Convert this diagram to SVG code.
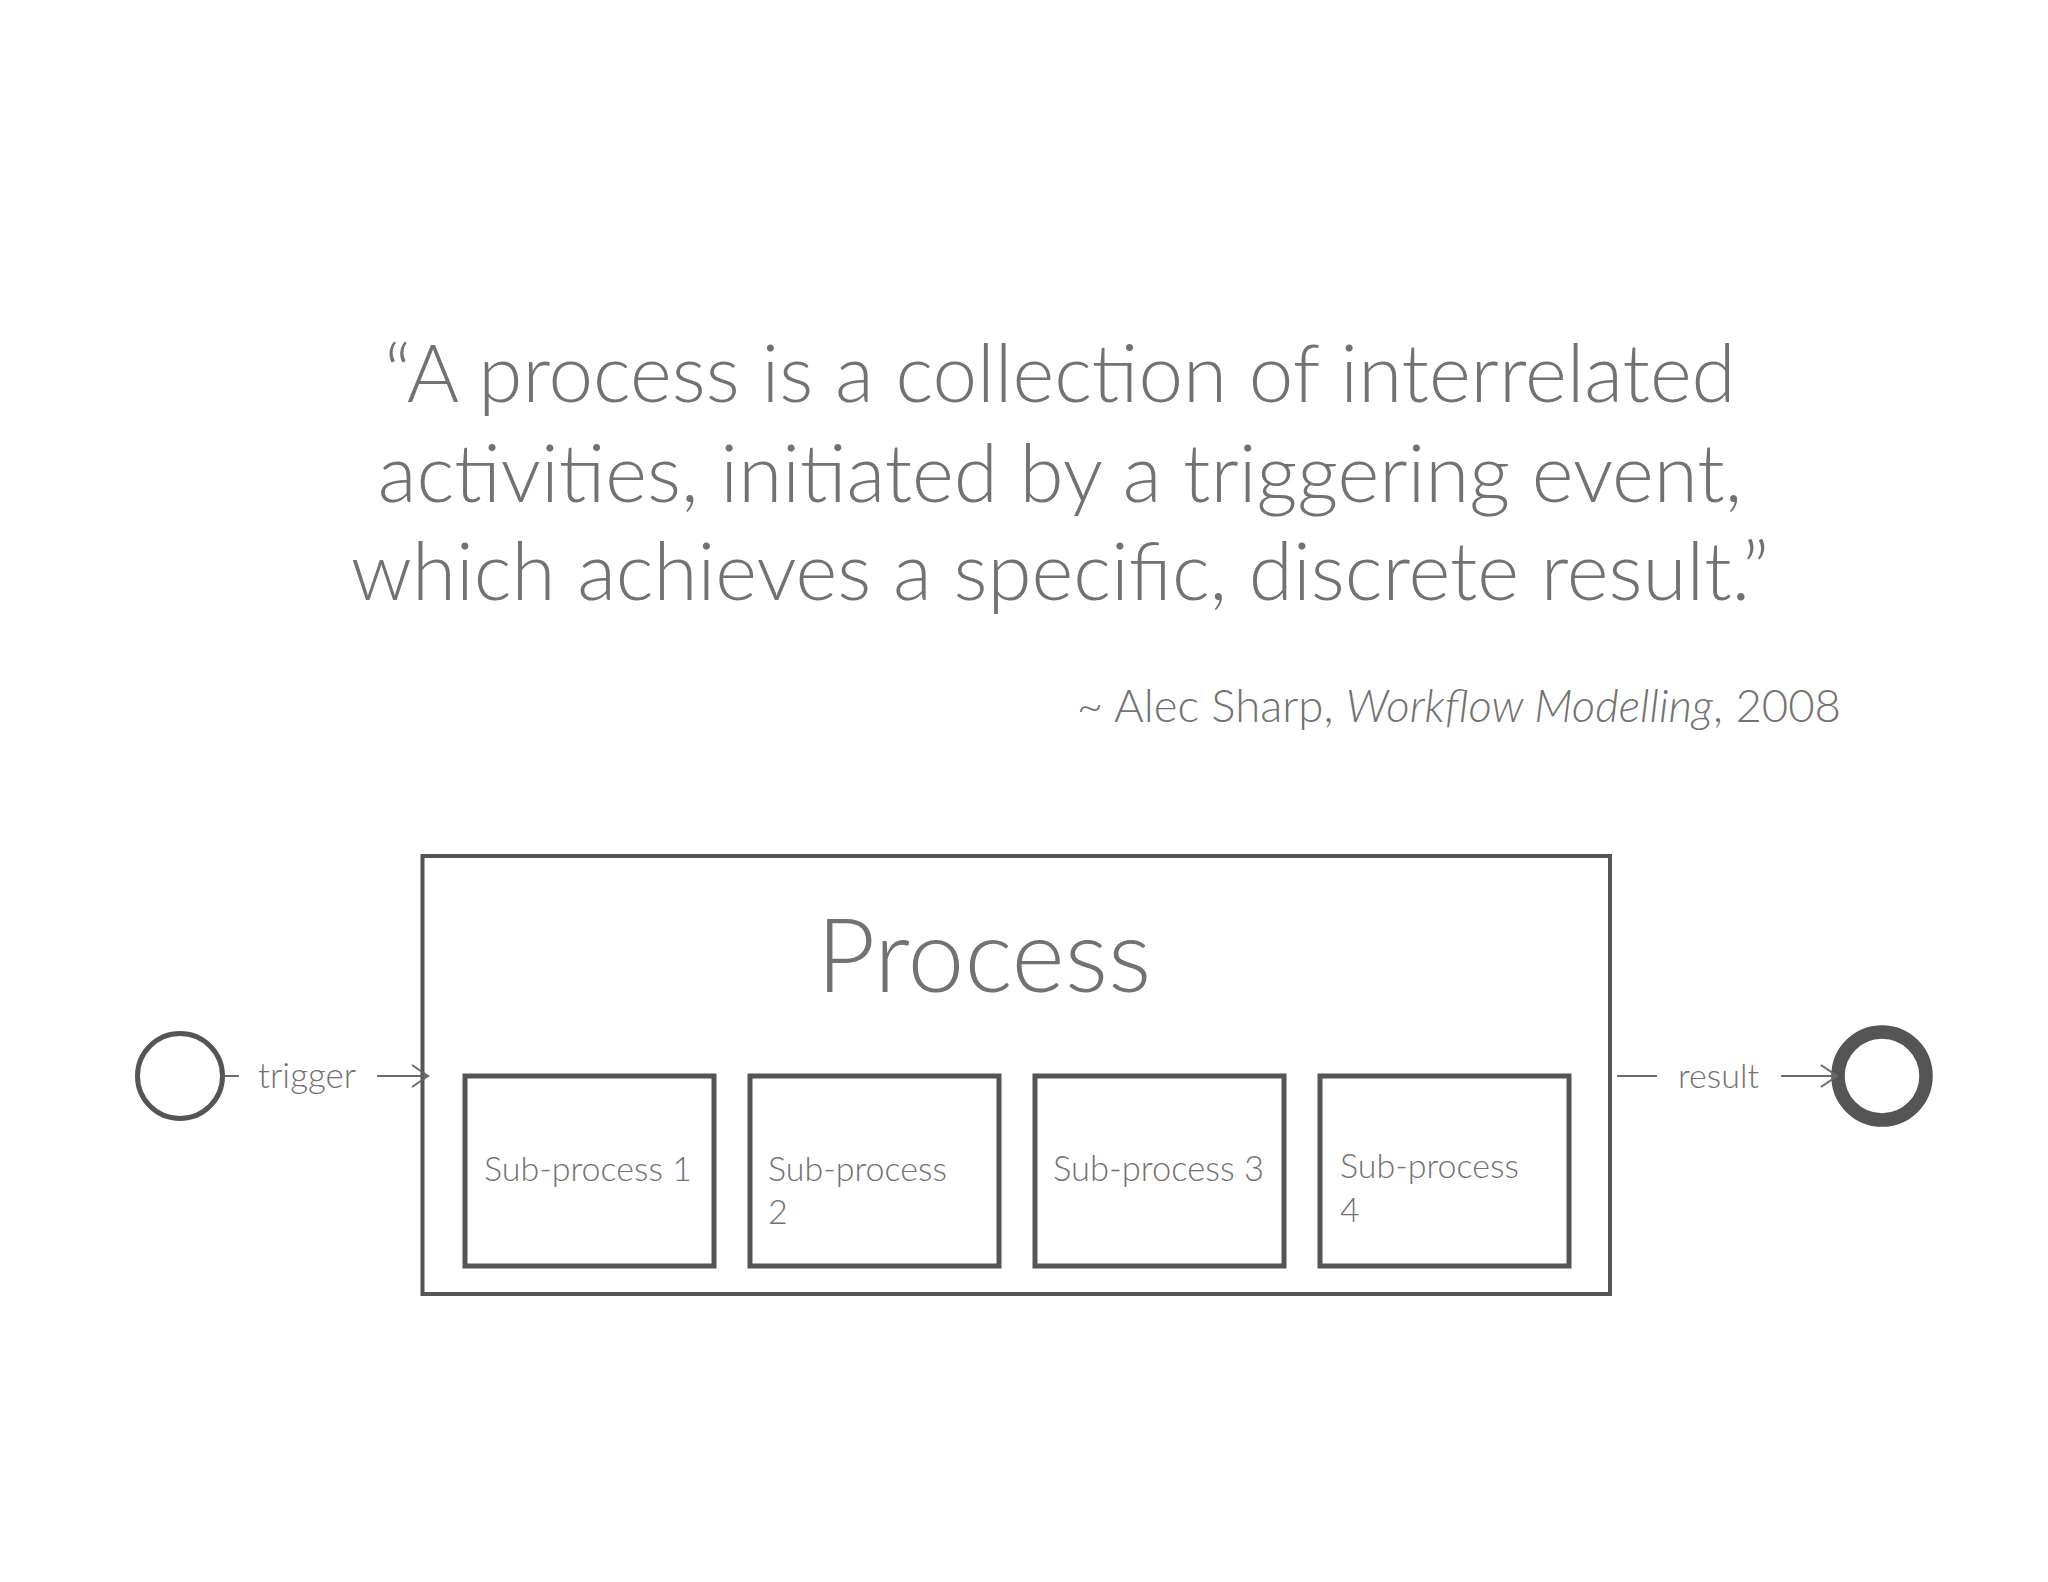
<svg xmlns="http://www.w3.org/2000/svg" width="2048" height="1582" viewBox="0 0 2048 1582">
<defs>
<style>
.t{font-family:Lato,"Open Sans","Liberation Sans",sans-serif;font-weight:300;fill:#727272}
.box{fill:#fff;stroke:#555;stroke-width:5}
.conn{fill:none;stroke:#6a6a6a;stroke-width:2}
</style>
<marker id="arr" viewBox="0 0 20 24" refX="18" refY="12" markerWidth="20" markerHeight="24" markerUnits="userSpaceOnUse" orient="auto">
<path d="M2,1 L18,12 L2,23" fill="none" stroke="#6a6a6a" stroke-width="2"/>
</marker>
</defs>
<rect width="2048" height="1582" fill="#fff"/>
<g id="quote">
<text class="t" x="1060" y="402" font-size="80" text-anchor="middle">“A process is a collection of interrelated</text>
<text class="t" x="1060" y="502" font-size="80" text-anchor="middle">activities, initiated by a triggering event,</text>
<text class="t" x="1060" y="600" font-size="80" text-anchor="middle">which achieves a specific, discrete result.”</text>
<text class="t" x="1841" y="722" font-size="45.5" text-anchor="end">~ Alec Sharp, <tspan font-style="italic">Workflow Modelling</tspan>, 2008</text>
</g>
<g id="process">
<rect x="422.5" y="856" width="1187.5" height="438" fill="#fff" stroke="#555" stroke-width="4"/>
<text class="t" x="984" y="992" font-size="102" text-anchor="middle">Process</text>
</g>
<g id="sub1">
<rect class="box" x="465" y="1076" width="249" height="190"/>
<text class="t" x="484" y="1181" font-size="34">Sub-process 1</text>
</g>
<g id="sub2">
<rect class="box" x="750" y="1076" width="249" height="190"/>
<text class="t" x="768" y="1181" font-size="34">Sub-process</text>
<text class="t" x="768" y="1224" font-size="34">2</text>
</g>
<g id="sub3">
<rect class="box" x="1035" y="1076" width="249" height="190"/>
<text class="t" x="1053" y="1181" font-size="34.5">Sub-process 3</text>
</g>
<g id="sub4">
<rect class="box" x="1320" y="1076" width="249" height="190"/>
<text class="t" x="1340" y="1178" font-size="34">Sub-process</text>
<text class="t" x="1340" y="1222" font-size="34">4</text>
</g>
<g id="start">
<circle cx="180" cy="1076" r="42.5" fill="#fff" stroke="#555" stroke-width="5"/>
</g>
<g id="end">
<circle cx="1882" cy="1076" r="44" fill="#fff" stroke="#555" stroke-width="13.5"/>
</g>
<g id="connectors">
<line class="conn" x1="225" y1="1076" x2="239" y2="1076"/>
<text class="t" x="258" y="1088" font-size="35">trigger</text>
<line class="conn" x1="377" y1="1076" x2="428" y2="1076" marker-end="url(#arr)"/>
<line class="conn" x1="1617" y1="1076" x2="1657" y2="1076"/>
<text class="t" x="1678" y="1088" font-size="34">result</text>
<line class="conn" x1="1781" y1="1076" x2="1837" y2="1076" marker-end="url(#arr)"/>
</g>
</svg>
